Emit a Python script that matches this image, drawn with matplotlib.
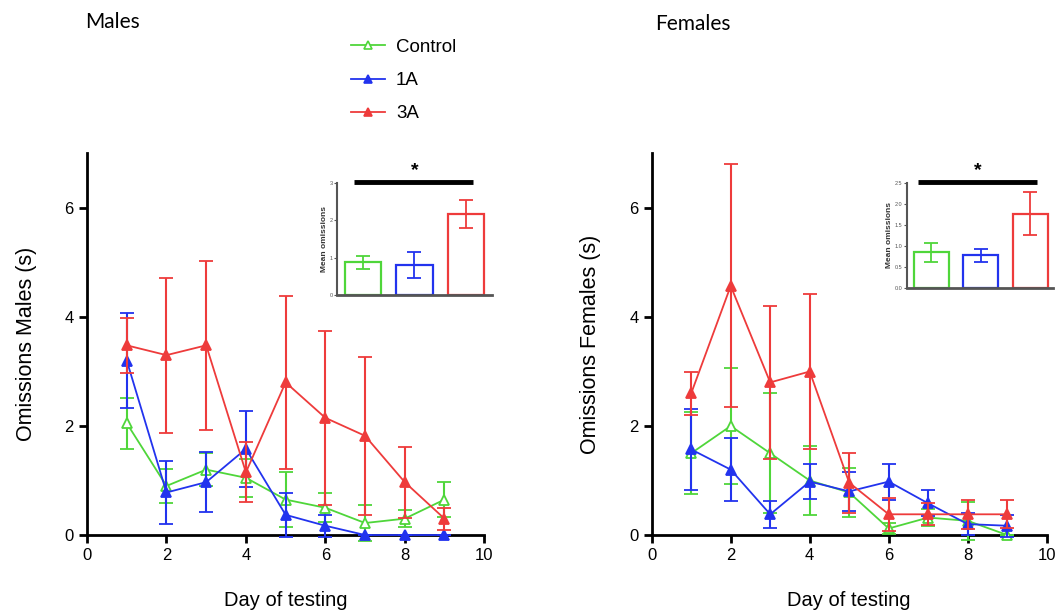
#Omissions per day of testing, males vs females

import numpy as np
import matplotlib
matplotlib.use('Agg')
import matplotlib.pyplot as plt
from matplotlib.lines import Line2D

plt.rcParams['font.family'] = ['Liberation Sans', 'DejaVu Sans']

#Data

days = [1, 2, 3, 4, 5, 6, 7, 8, 9]
groups = ['Control', '1A', '3A']

males_control = [2.05, 0.90, 1.20, 1.05, 0.65, 0.50, 0.22, 0.30, 0.65]
males_control_err = [0.47, 0.32, 0.30, 0.35, 0.50, 0.27, 0.33, 0.16, 0.32]
males_1a = [3.20, 0.78, 0.97, 1.58, 0.37, 0.17, 0.0, 0.0, 0.0]
males_1a_err = [0.87, 0.58, 0.55, 0.70, 0.40, 0.20, 0.0, 0.0, 0.0]
males_3a = [3.48, 3.30, 3.48, 1.15, 2.80, 2.15, 1.82, 0.97, 0.30]
males_3a_err = [0.50, 1.42, 1.55, 0.55, 1.58, 1.60, 1.45, 0.65, 0.20]

females_control = [1.50, 2.00, 1.50, 1.00, 0.78, 0.12, 0.32, 0.26, 0.0]
females_control_err = [0.75, 1.07, 1.10, 0.63, 0.45, 0.10, 0.16, 0.35, 0.0]
females_1a = [1.57, 1.20, 0.38, 0.98, 0.80, 0.98, 0.58, 0.20, 0.17]
females_1a_err = [0.75, 0.58, 0.25, 0.32, 0.36, 0.33, 0.24, 0.20, 0.20]
females_3a = [2.60, 4.57, 2.80, 3.00, 0.96, 0.38, 0.38, 0.38, 0.38]
females_3a_err = [0.40, 2.23, 1.40, 1.43, 0.55, 0.30, 0.20, 0.27, 0.26]

#Inset: mean omissions per group
males_mean = [0.87, 0.80, 2.16]
males_mean_err = [0.18, 0.35, 0.38]
females_mean = [0.85, 0.78, 1.77]
females_mean_err = [0.23, 0.16, 0.52]

colors = ['#4fd63a', '#2233ee', '#ee3b3b']
faces = ['white', '#2233ee', '#ee3b3b']

fig = plt.figure(figsize=(10.59, 6.12), dpi=100)


def main_panel(ax, series, errs, ylabel):
    for i in range(3):
        ax.errorbar(days, series[i], yerr=errs[i], color=colors[i], ecolor=colors[i],
                    elinewidth=1.5, capsize=5, capthick=1.5, lw=1.3,
                    marker='^', ms=7, mfc=faces[i], mec=colors[i], mew=1.3,
                    clip_on=False, zorder=3 + i)
    ax.set_xlim(0, 10)
    ax.set_ylim(0, 7)
    ax.set_xticks([0, 2, 4, 6, 8, 10])
    ax.set_yticks([0, 2, 4, 6])
    ax.spines['top'].set_visible(False)
    ax.spines['right'].set_visible(False)
    ax.spines['left'].set_linewidth(2)
    ax.spines['bottom'].set_linewidth(2)
    ax.tick_params(width=2, length=6, labelsize=12, colors='black')
    ax.set_xlabel('Day of testing', fontsize=14.5, labelpad=20)
    ax.set_ylabel(ylabel, fontsize=15.5, labelpad=20)


def inset_panel(ax, means, errs, ylim, yticks, yticklabels):
    x = np.arange(3)
    for i in range(3):
        ax.bar(x[i], means[i], width=0.7, facecolor='white', edgecolor=colors[i], linewidth=1.6)
        ax.errorbar(x[i], means[i], yerr=errs[i], color=colors[i], capsize=5,
                    elinewidth=1.3, capthick=1.3, fmt='none')
    ax.set_xlim(-0.5, 2.5)
    ax.set_ylim(*ylim)
    ax.set_xticks([])
    ax.set_yticks(yticks)
    ax.set_yticklabels(yticklabels)
    ax.spines['top'].set_visible(False)
    ax.spines['right'].set_visible(False)
    ax.spines['left'].set_color('#555555')
    ax.spines['bottom'].set_color('#555555')
    ax.spines['left'].set_linewidth(1.5)
    ax.spines['bottom'].set_linewidth(2)
    ax.tick_params(axis='y', labelsize=4, length=2, pad=1, colors='#555555')
    ax.set_ylabel('Mean omissions', fontsize=6, labelpad=1, fontweight='bold', color='#333333')
    ax.patch.set_alpha(0)


#Males
ax1 = fig.add_axes([0.0822, 0.1258, 0.375, 0.6234])
main_panel(ax1, [males_control, males_1a, males_3a],
           [males_control_err, males_1a_err, males_3a_err], 'Omissions Males (s)')

in1 = fig.add_axes([0.318, 0.518, 0.1467, 0.1835])
inset_panel(in1, males_mean, males_mean_err, (0, 3), [0, 1, 2, 3], ['0', '1', '2', '3'])
in1.plot([-0.16, 2.14], [3.02, 3.02], color='black', lw=3.5, clip_on=False, solid_capstyle='butt')
in1.text(1.0, 3.1, '*', ha='center', va='bottom', fontsize=14, fontweight='bold')

#Females
ax2 = fig.add_axes([0.6154, 0.1258, 0.373, 0.6234])
main_panel(ax2, [females_control, females_1a, females_3a],
           [females_control_err, females_1a_err, females_3a_err], 'Omissions Females (s)')

in2 = fig.add_axes([0.856, 0.529, 0.138, 0.1725])
inset_panel(in2, females_mean, females_mean_err, (0, 2.5),
            [0, 0.5, 1.0, 1.5, 2.0, 2.5], ['0.0', '0.5', '1.0', '1.5', '2.0', '2.5'])
in2.set_xlim(-0.5, 2.45)
in2.plot([-0.27, 2.14], [2.52, 2.52], color='black', lw=3.5, clip_on=False, solid_capstyle='butt')
in2.text(0.93, 2.58, '*', ha='center', va='bottom', fontsize=14, fontweight='bold')

#Titles and legend
fig.text(85 / 1059, 1 - 22 / 612, 'Males', fontsize=15, va='center', ha='left',
         family=['Lato', 'DejaVu Sans'])
fig.text(655 / 1059, 1 - 24 / 612, 'Females', fontsize=15, va='center', ha='left',
         family=['Lato', 'DejaVu Sans'])

handles = [Line2D([], [], color=colors[i], lw=1.3, marker='^', ms=6,
                  mfc=faces[i], mec=colors[i], mew=1.2) for i in range(3)]
fig.legend(handles, groups, loc='upper left', bbox_to_anchor=(334 / 1059, 1 - 22 / 612),
           frameon=False, fontsize=13.5, handlelength=1.8, labelspacing=0.85, handletextpad=0.6)

plt.savefig('out.png', dpi=100)
